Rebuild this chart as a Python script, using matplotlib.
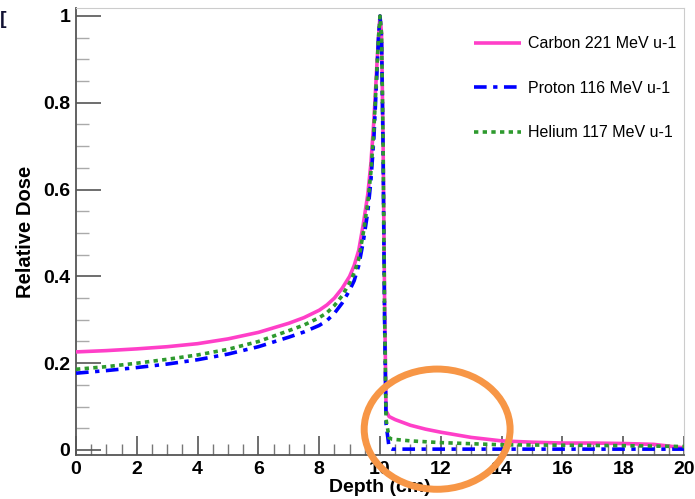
import matplotlib
matplotlib.use("Agg")
import matplotlib.pyplot as plt
from matplotlib.patches import Ellipse
from matplotlib.ticker import MultipleLocator

plt.rcParams['font.family'] = ['Liberation Sans', 'DejaVu Sans']

carbon_depth = [0, 1, 2, 3, 4, 5, 6, 7, 7.5, 8, 8.25, 8.5, 8.75, 9, 9.15, 9.3, 9.45, 9.6, 9.7, 9.8, 9.9, 9.95, 10.0,
                10.05, 10.1, 10.15, 10.2, 10.3, 10.5, 11, 11.5, 12, 13, 14, 15, 16, 17, 18, 19, 19.5, 20]
carbon_dose = [0.226, 0.229, 0.233, 0.238, 0.245, 0.256, 0.271, 0.292, 0.305, 0.322, 0.334, 0.35, 0.372, 0.40,
               0.425, 0.46, 0.52, 0.59, 0.66, 0.76, 0.89, 0.95, 1.0,
               0.96, 0.72, 0.35, 0.09, 0.077, 0.07, 0.057, 0.048, 0.041, 0.029, 0.021, 0.018, 0.016, 0.016,
               0.015, 0.013, 0.009, 0.005]

proton_depth = [0, 1, 2, 3, 4, 5, 6, 7, 7.5, 8, 8.25, 8.5, 8.75, 9, 9.15, 9.3, 9.45, 9.6, 9.7, 9.8, 9.9, 9.95, 10.0,
                10.05, 10.1, 10.15, 10.2, 10.3, 10.4, 11, 12, 14, 16, 18, 20]
proton_dose = [0.177, 0.183, 0.190, 0.198, 0.208, 0.221, 0.238, 0.260, 0.272, 0.287, 0.298, 0.315, 0.338, 0.368,
               0.39, 0.425, 0.48, 0.55, 0.62, 0.72, 0.87, 0.95, 1.0,
               0.95, 0.70, 0.30, 0.06, 0.005, 0.002, 0.002, 0.002, 0.002, 0.002, 0.002, 0.002]

helium_depth = [0, 1, 2, 3, 4, 5, 6, 7, 7.5, 8, 8.25, 8.5, 8.75, 9, 9.15, 9.3, 9.45, 9.6, 9.7, 9.8, 9.9, 9.95, 10.0,
                10.05, 10.1, 10.15, 10.2, 10.3, 10.4, 11, 12, 14, 16, 18, 20]
helium_dose = [0.186, 0.192, 0.200, 0.209, 0.219, 0.232, 0.250, 0.275, 0.288, 0.305, 0.316, 0.333, 0.355, 0.385,
               0.408, 0.44, 0.50, 0.57, 0.64, 0.74, 0.88, 0.95, 1.0,
               0.96, 0.72, 0.32, 0.07, 0.028, 0.025, 0.021, 0.017, 0.012, 0.011, 0.010, 0.008]

labels = ["Carbon 221 MeV u-1", "Proton 116 MeV u-1", "Helium 117 MeV u-1"]
xticks = [0, 2, 4, 6, 8, 10, 12, 14, 16, 18, 20]
yticks = [0, 0.2, 0.4, 0.6, 0.8, 1.0]
ytick_labels = ["0", "0.2", "0.4", "0.6", "0.8", "1"]

fig = plt.figure(figsize=(6.95, 4.99), dpi=100)
ax = fig.add_axes([76/695, 1-455/499, (684-76)/695, (455-8)/499])

ax.plot(carbon_depth, carbon_dose, color='#ff3fc8', lw=2.6, solid_capstyle='butt', label=labels[0], zorder=3)
ax.plot(proton_depth, proton_dose, color='#0000ff', lw=2.6, dashes=(3.5, 1.8, 1.2, 1.8), label=labels[1], zorder=4)
ax.plot(helium_depth, helium_dose, color='#2e9a2e', lw=2.6, dashes=(1.2, 1.2), label=labels[2], zorder=5)

ax.set_xlim(0, 20)
ax.set_ylim(-5/434, 1 + 8/434)
ax.set_xticks(xticks)
ax.set_xticklabels([str(t) for t in xticks])
ax.set_yticks(yticks)
ax.set_yticklabels(ytick_labels)
ax.xaxis.set_minor_locator(MultipleLocator(0.5))
ax.yaxis.set_minor_locator(MultipleLocator(0.05))

for lab in ax.get_xticklabels() + ax.get_yticklabels():
    lab.set_fontweight('bold')
ax.tick_params(axis='both', which='major', direction='in', labelsize=14, color='#555555', width=1.2)
ax.tick_params(axis='y', which='major', length=18, pad=4)
ax.tick_params(axis='x', which='major', length=14, pad=4)
ax.tick_params(axis='y', which='minor', direction='in', length=9, color='#aaaaaa', width=1)
ax.tick_params(axis='x', which='minor', direction='in', length=8, color='#777777', width=1)

ax.spines['left'].set_color('#555555')
ax.spines['bottom'].set_color('#555555')
ax.spines['left'].set_linewidth(1.3)
ax.spines['bottom'].set_linewidth(1.3)
ax.spines['top'].set_color('#cccccc')
ax.spines['right'].set_color('#cccccc')

ax.set_ylabel("Relative Dose", fontsize=14.5, fontweight='bold', labelpad=6)
ax.set_xlabel("Depth (cm)", fontsize=14, fontweight='bold', labelpad=1)

leg = ax.legend(loc='upper left', bbox_to_anchor=(460/695, 1-22/499), bbox_transform=fig.transFigure,
                frameon=False, fontsize=11.5, handlelength=2.9, labelspacing=1.85, handletextpad=0.45)

ell = Ellipse((11.88, 0.048), 4.8, 0.277, fill=False, edgecolor='#f79646', lw=5,
              transform=ax.transData, clip_on=False, zorder=10)
ax.add_patch(ell)

fig.text(0.0, 1-20/499, "[", fontsize=14, fontweight='bold', color='#111133', va='center', ha='left')

fig.savefig("out.png", dpi=100)
